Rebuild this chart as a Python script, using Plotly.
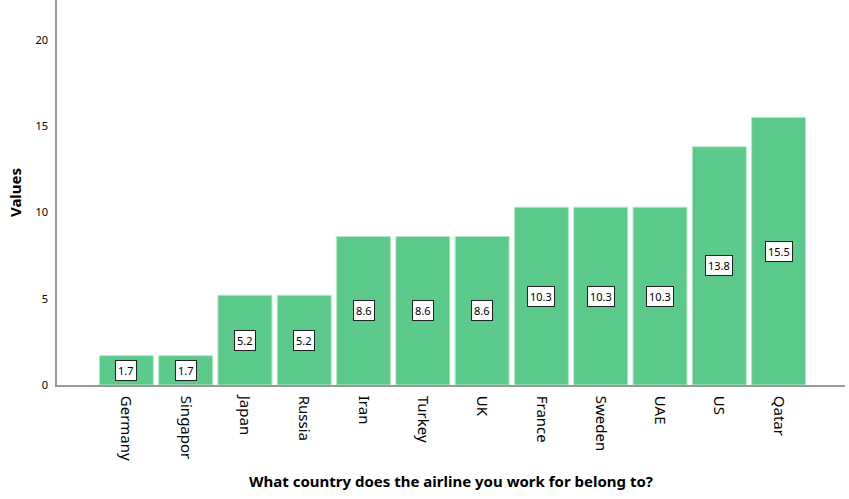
import plotly.graph_objects as go

countries = ["Germany", "Singapor", "Japan", "Russia", "Iran", "Turkey", "UK",
             "France", "Sweden", "UAE", "US", "Qatar"]
values = [1.7, 1.7, 5.2, 5.2, 8.6, 8.6, 8.6, 10.3, 10.3, 10.3, 13.8, 15.5]
y_ticks = [0, 5, 10, 15, 20]

FONT = "Noto Sans, Open Sans, sans-serif"

fig = go.Figure()
fig.add_trace(go.Bar(
    x=countries, y=values,
    marker=dict(color="#5bc98a", line=dict(color="#b5e8c9", width=1)),
    width=0.91,
    hoverinfo="x+y",
))

for c, v in zip(countries, values):
    fig.add_annotation(
        x=c, y=v / 2, text=f"{v:.1f}", showarrow=False,
        font=dict(family=FONT, size=11, color="#000"),
        bgcolor="white", bordercolor="#222", borderwidth=1, borderpad=2,
    )

fig.update_layout(
    width=849, height=499,
    margin=dict(l=57, r=4, t=0, b=114, autoexpand=False),
    plot_bgcolor="white", paper_bgcolor="white",
    showlegend=False,
    font=dict(family=FONT, color="#000"),
    xaxis=dict(
        range=[-1.17, 12.12], showline=True, linecolor="#999", linewidth=1.5,
        showgrid=False, tickangle=90, tickfont=dict(size=15, color="#000"),
        ticks="", ticklabelstandoff=6, automargin=False,
        title=dict(text="<b>What country does the airline you work for belong to?</b>",
                   font=dict(size=15), standoff=16),
    ),
    yaxis=dict(
        range=[0, 22.3], showline=True, linecolor="#999", linewidth=1.5,
        showgrid=False, zeroline=False, tickvals=y_ticks, automargin=False,
        tickfont=dict(size=11, color="#000"), ticks="", ticklabelstandoff=5,
        title=dict(text="<b>Values</b>", font=dict(size=15), standoff=10),
    ),
)

fig.write_html("out.html", config={"displayModeBar": False},
               post_script="document.body.style.margin='0';")
